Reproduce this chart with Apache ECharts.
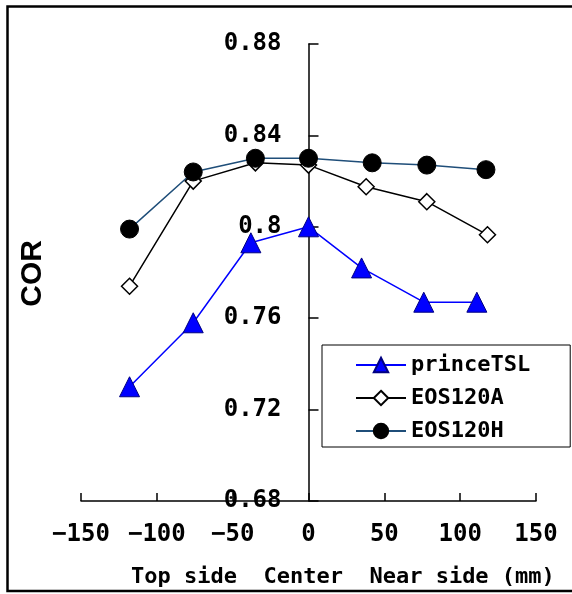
<!DOCTYPE html>
<html>
<head>
<meta charset="utf-8">
<script src="https://cdn.jsdelivr.net/npm/echarts@6/dist/echarts.min.js"></script>
<style>
html,body{margin:0;padding:0;background:#fff;}
#chart{width:572px;height:594px;}
</style>
</head>
<body>
<div id="chart"></div>
<script>
// ---- data ----
var seriesNames = ['princeTSL', 'EOS120A', 'EOS120H'];
var princeX = [-118, -76, -38, 0, 35, 76, 111];
var princeY = [0.730, 0.758, 0.793, 0.800, 0.782, 0.767, 0.767];
var eosAX = [-118, -76, -35, 0, 38, 78, 118];
var eosAY = [0.774, 0.820, 0.828, 0.827, 0.8175, 0.811, 0.7965];
var eosHX = [-118, -76, -35, 0, 42, 78, 117];
var eosHY = [0.799, 0.824, 0.830, 0.830, 0.828, 0.827, 0.825];
var xTicks = [-150, -100, -50, 0, 50, 100, 150];
var yTicks = [0.68, 0.72, 0.76, 0.80, 0.84, 0.88];
var yTitle = 'COR';
var xTitle = 'Top side  Center  Near side (mm)';

function pairs(xs, ys) { return xs.map(function (x, i) { return [x, ys[i]]; }); }

var mono = "'DejaVu Sans Mono', 'Noto Sans CJK JP', monospace";
var gridLeft = 81, gridRight = 36;
var plotW = 572 - gridLeft - gridRight;
// distance of x=0 from the grid's left edge (so the y axis sits at x = 0)
var zeroOffset = plotW * (0 - xTicks[0]) / (xTicks[xTicks.length - 1] - xTicks[0]);

var chart = echarts.init(document.getElementById('chart'), null, {renderer: 'canvas'});
chart.setOption({
  animation: false,
  backgroundColor: '#ffffff',
  grid: {left: gridLeft, right: gridRight, top: 44, bottom: 93, containLabel: false, outerBoundsMode: 'none'},
  xAxis: {
    type: 'value',
    min: xTicks[0], max: xTicks[xTicks.length - 1], interval: 50,
    axisLine: {onZero: false, lineStyle: {color: '#000', width: 1.5}},
    axisTick: {inside: true, length: 8, lineStyle: {color: '#000', width: 1.5}},
    axisLabel: {
      margin: 22, color: '#000', fontFamily: mono, fontWeight: 'bold', fontSize: 24,
      formatter: function (v) { return String(v).replace('-', '\u2212'); }
    },
    splitLine: {show: false}
  },
  yAxis: {
    type: 'value',
    position: 'left',
    offset: -zeroOffset,
    min: yTicks[0], max: yTicks[yTicks.length - 1], interval: 0.04,
    axisLine: {show: true, onZero: false, lineStyle: {color: '#000', width: 1.5}},
    axisTick: {show: true, inside: true, length: 10, lineStyle: {color: '#000', width: 1.5}},
    axisLabel: {
      margin: 27, color: '#000', fontFamily: mono, fontWeight: 'bold', fontSize: 24,
      padding: [6, 0, 0, 0],
      formatter: function (v) { return String(Math.round(v * 100) / 100); }
    },
    splitLine: {show: false}
  },
  legend: {
    orient: 'vertical',
    left: 322, top: 345,
    padding: [9, 40, 5, 33],
    itemGap: 11,
    itemWidth: 50, itemHeight: 18,
    backgroundColor: '#fff',
    borderColor: '#000', borderWidth: 1,
    textStyle: {color: '#000', fontFamily: mono, fontWeight: 'bold', fontSize: 22},
    data: seriesNames
  },
  series: [
    {
      name: seriesNames[0], type: 'line', data: pairs(princeX, princeY),
      symbol: 'triangle', symbolSize: 20,
      lineStyle: {color: '#0000FF', width: 1.5},
      itemStyle: {color: '#0000FF', borderColor: '#000080', borderWidth: 1}
    },
    {
      name: seriesNames[1], type: 'line', data: pairs(eosAX, eosAY),
      symbol: 'diamond', symbolSize: 16,
      lineStyle: {color: '#000', width: 1.5},
      itemStyle: {color: '#fff', borderColor: '#000', borderWidth: 1.5}
    },
    {
      name: seriesNames[2], type: 'line', data: pairs(eosHX, eosHY),
      symbol: 'circle', symbolSize: 18,
      lineStyle: {color: '#1F4E79', width: 1.5},
      itemStyle: {color: '#000', borderColor: '#000', borderWidth: 1}
    }
  ],
  graphic: [
    {
      type: 'rect', silent: true, z: -1,
      shape: {x: 7.5, y: 6.5, width: 600, height: 584.5},
      style: {fill: 'none', stroke: '#000', lineWidth: 2.5}
    },
    {
      type: 'text', left: 18, top: 240, rotation: Math.PI / 2,
      style: {text: yTitle, fill: '#000', font: "bold 30px 'Liberation Sans', Arial, sans-serif"}
    },
    {
      type: 'text', left: 131, top: 566,
      style: {text: xTitle, fill: '#000', font: "bold 22px " + mono}
    }
  ]
});
</script>
</body>
</html>
